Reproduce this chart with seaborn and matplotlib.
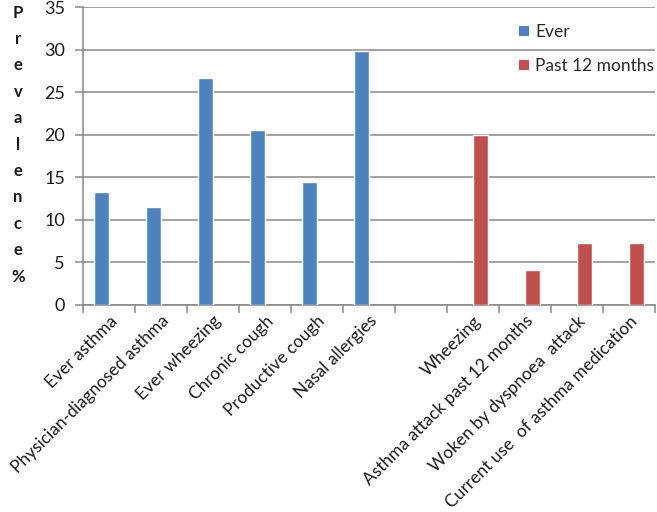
import matplotlib
matplotlib.use("Agg")
import matplotlib.pyplot as plt
import seaborn as sns
import pandas as pd
from matplotlib.patches import Patch

categories = ["Ever asthma", "Physician-diagnosed asthma", "Ever wheezing",
              "Chronic cough", "Productive cough", "Nasal allergies", " ",
              "Wheezing", "Asthma attack past 12 months",
              "Woken by dyspnoea  attack", "Current use  of asthma medication"]
ever_cats = ["Ever asthma", "Physician-diagnosed asthma", "Ever wheezing",
             "Chronic cough", "Productive cough", "Nasal allergies"]
ever_vals = [13.3, 11.5, 26.7, 20.5, 14.4, 29.9]
past_cats = ["Wheezing", "Asthma attack past 12 months",
             "Woken by dyspnoea  attack", "Current use  of asthma medication"]
past_vals = [20.0, 4.1, 7.2, 7.3]
series = ["Ever", "Past 12 months"]
colors = ["#4F81BD", "#C0504D"]
yticks = [0, 5, 10, 15, 20, 25, 30, 35]

df = pd.DataFrame({
    "category": ever_cats + past_cats,
    "value": ever_vals + past_vals,
    "series": [series[0]] * len(ever_cats) + [series[1]] * len(past_cats),
})

sns.set_style("white")
FONT = ["Lato", "DejaVu Sans"]
plt.rcParams["font.family"] = FONT

W, H = 657, 512
fig = plt.figure(figsize=(W / 100, H / 100), dpi=100)
x0, x1, y0, y1 = 83, 655, 7.3, 304.5
ax = fig.add_axes([x0 / W, 1 - y1 / H, (x1 - x0) / W, (y1 - y0) / H])

sns.barplot(data=df, x="category", y="value", hue="series", order=categories,
            hue_order=series, palette=colors, width=2 / 3.5, dodge=True,
            saturation=1, errorbar=None, ax=ax, legend=False, zorder=3)

grid_c = "#878787"
ax.set_ylim(0, 35)
ax.set_xlim(-0.5, len(categories) - 0.5)
ax.set_yticks(yticks)
ax.set_yticklabels([str(v) for v in yticks], fontsize=13, color="#1a1a1a")
ax.yaxis.grid(True, color=grid_c, linewidth=1.1, zorder=0)
ax.set_axisbelow(True)
for s in ["top", "right"]:
    ax.spines[s].set_visible(False)
for s in ["left", "bottom"]:
    ax.spines[s].set_color(grid_c)
    ax.spines[s].set_linewidth(1.1)
ax.tick_params(axis="y", which="major", direction="out", length=6, width=1.1,
               color=grid_c, pad=7, left=True)

ax.set_xticks(range(len(categories)))
ax.set_xticklabels(categories, rotation=45, ha="right", rotation_mode="anchor",
                   fontsize=12.5, color="#1a1a1a")
ax.tick_params(axis="x", which="major", length=0, pad=6)
ax.set_xticks([i - 0.5 for i in range(len(categories) + 1)], minor=True)
ax.tick_params(axis="x", which="minor", direction="out", length=6, width=1.1,
               color=grid_c, bottom=True)
ax.set_xlabel("")
ax.set_ylabel("")

handles = [Patch(facecolor=c, edgecolor="none") for c in colors]
fig.legend(handles, series, loc="upper left",
           bbox_to_anchor=(519 / W, 1 - 24 / H), frameon=False, fontsize=12.5,
           handlelength=0.55, handleheight=0.55, handletextpad=0.4,
           labelspacing=1.05, borderpad=0, borderaxespad=0)

letters = list("Prevalence%")
for i, ch in enumerate(letters):
    fig.text(18 / W, 1 - (12.7 + i * 26.4) / H, ch, ha="center", va="center",
             fontsize=12, fontweight="bold", color="#1a1a1a")

fig.savefig("out.png", dpi=100)
